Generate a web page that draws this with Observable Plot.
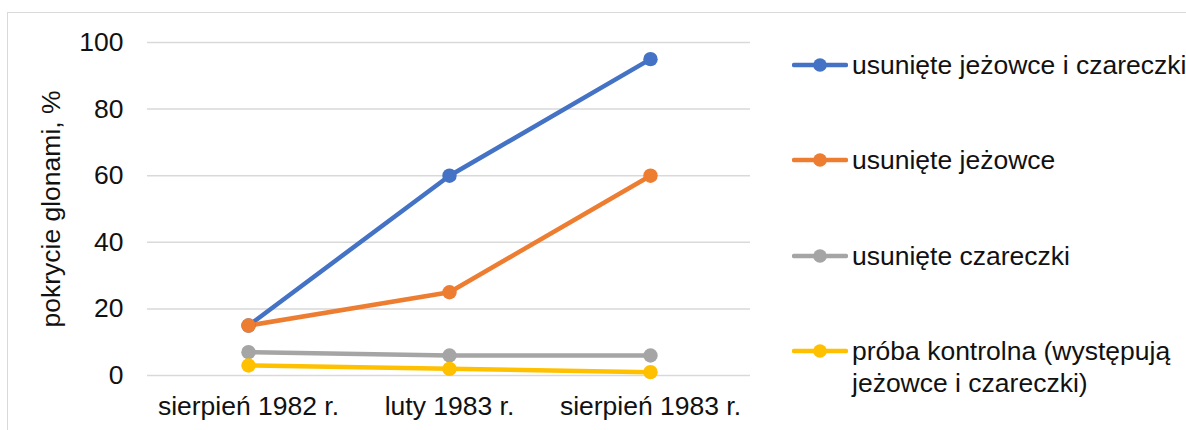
<!DOCTYPE html>
<html>
<head>
<meta charset="utf-8">
<script src="https://cdn.jsdelivr.net/npm/d3@7"></script>
<script src="https://cdn.jsdelivr.net/npm/@observablehq/plot@0.6"></script>
<style>
  html, body { margin: 0; padding: 0; background: #fff; overflow: hidden; }
  #wrap { position: relative; width: 1186px; height: 430px; font-family: "Liberation Sans", Arial, sans-serif; }
  #frame { position: absolute; left: 7px; top: 12px; width: 1200px; height: 440px; border: 1.5px solid #d9d9d9; box-sizing: border-box; }
  #chart { position: absolute; left: 0; top: 0; }
  #legend { position: absolute; left: 792px; top: 49px; }
  .item { display: flex; align-items: flex-start; height: 95.3px; }
  .item svg { flex: none; margin-top: 9px; }
  .item span { font-size: 26.5px; line-height: 32px; color: #111; width: 340px; margin-left: 4px; }
</style>
</head>
<body>
<div id="wrap">
  <div id="frame"></div>
  <div id="chart"></div>
  <div id="legend"></div>
</div>
<script>
const categories = ["sierpień 1982 r.", "luty 1983 r.", "sierpień 1983 r."];
const seriesNames = [
  "usunięte jeżowce i czareczki",
  "usunięte jeżowce",
  "usunięte czareczki",
  "próba kontrolna (występują jeżowce i czareczki)"
];
const seriesColors = ["#4472C4", "#ED7D31", "#A5A5A5", "#FFC000"];
const bothRemoved = [15, 60, 95];
const urchinsRemoved = [15, 25, 60];
const limpetsRemoved = [7, 6, 6];
const controlValues = [3, 2, 1];
const yTicks = [0, 20, 40, 60, 80, 100];
const yLabel = "pokrycie glonami, %";

const seriesValues = [bothRemoved, urchinsRemoved, limpetsRemoved, controlValues];
const data = [];
seriesValues.forEach((vals, si) => {
  vals.forEach((v, ci) => data.push({series: seriesNames[si], category: categories[ci], value: v}));
});

const FS = 26.5;
const plot = Plot.plot({
  width: 1186,
  height: 430,
  marginLeft: 147,
  marginRight: 436,
  marginTop: 42,
  marginBottom: 55,
  style: {fontFamily: "Liberation Sans, Arial, sans-serif", fontSize: FS + "px", color: "#111", background: "transparent", overflow: "visible"},
  x: {type: "point", domain: categories, padding: 0.5, label: null},
  y: {domain: [0, 100], label: null},
  color: {domain: seriesNames, range: seriesColors},
  marks: [
    Plot.ruleY(yTicks, {stroke: "#d9d9d9", strokeWidth: 1.5}),
    Plot.axisY({ticks: yTicks, tickSize: 0, tickPadding: 24, fontSize: FS, label: null}),
    Plot.text([yLabel], {frameAnchor: "left", textAnchor: "middle", dx: -96, rotate: -90, fontSize: FS, fill: "#111"}),
    Plot.axisX({tickSize: 0, tickPadding: 21, fontSize: FS, label: null}),
    Plot.line(data, {x: "category", y: "value", z: "series", stroke: "series", strokeWidth: 4.5, strokeLinejoin: "round", strokeLinecap: "round"}),
    Plot.dot(data, {x: "category", y: "value", fill: "series", r: 7.2, stroke: "none"})
  ]
});
document.getElementById("chart").appendChild(plot);

const legend = document.getElementById("legend");
seriesNames.forEach((name, i) => {
  const item = document.createElement("div");
  item.className = "item";
  item.innerHTML = `<svg width="56" height="14"><line x1="2" y1="7" x2="54" y2="7" stroke="${seriesColors[i]}" stroke-width="4.5" stroke-linecap="round"/><circle cx="28" cy="7" r="6.8" fill="${seriesColors[i]}"/></svg><span>${name}</span>`;
  legend.appendChild(item);
});
</script>
</body>
</html>
